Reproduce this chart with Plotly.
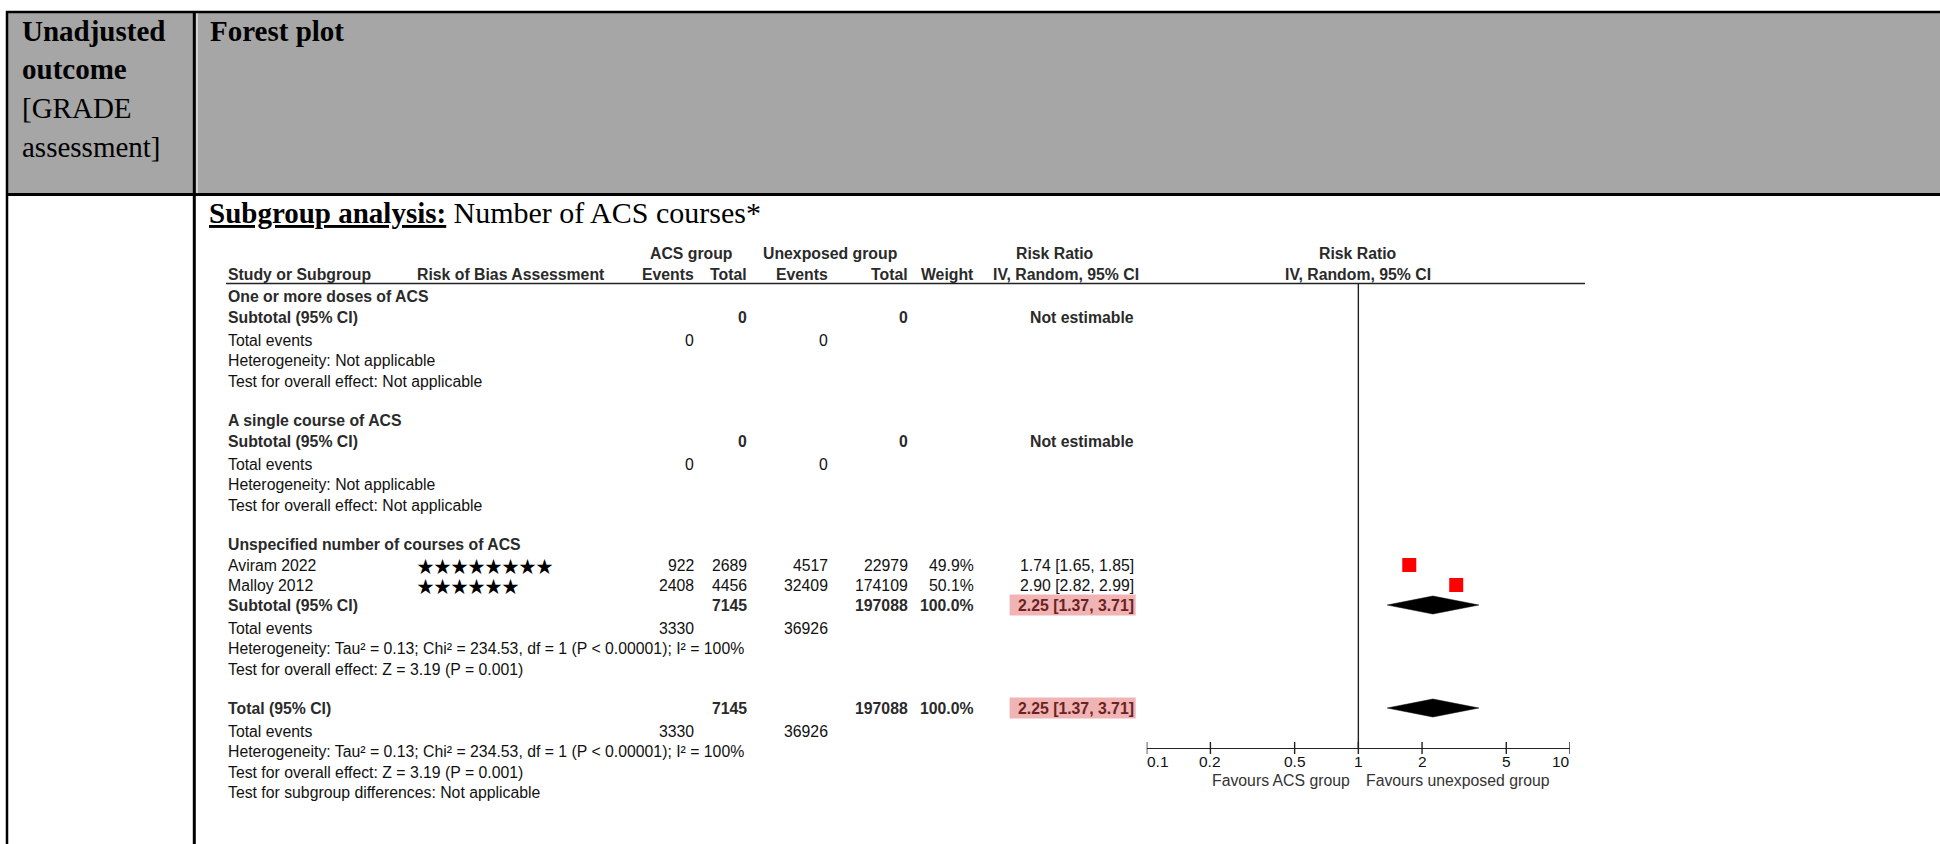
import math
import plotly.graph_objects as go

# ---------------- data ----------------
subgroup_names = ["One or more doses of ACS", "A single course of ACS",
                  "Unspecified number of courses of ACS"]
study_names = ["Aviram 2022", "Malloy 2012"]
study_subgroup = [2, 2]
study_stars = [8, 6]
acs_events = [922, 2408]
acs_totals = [2689, 4456]
unexp_events = [4517, 32409]
unexp_totals = [22979, 174109]
study_weights = ["49.9%", "50.1%"]
study_rr = [1.74, 2.90]
study_lo = [1.65, 2.82]
study_hi = [1.85, 2.99]

sub_acs_total = [0, 0, 7145]
sub_unexp_total = [0, 0, 197088]
sub_weight = ["", "", "100.0%"]
sub_acs_events = [0, 0, 3330]
sub_unexp_events = [0, 0, 36926]
sub_rr = [None, None, 2.25]
sub_lo = [None, None, 1.37]
sub_hi = [None, None, 3.71]
sub_heterogeneity = ["Not applicable", "Not applicable",
                     "Tau² = 0.13; Chi² = 234.53, df = 1 (P < 0.00001); I² = 100%"]
sub_effect = ["Not applicable", "Not applicable", "Z = 3.19 (P = 0.001)"]

total_acs_total = 7145
total_unexp_total = 197088
total_weight = "100.0%"
total_acs_events = 3330
total_unexp_events = 36926
total_rr, total_lo, total_hi = 2.25, 1.37, 3.71
total_heterogeneity = "Tau² = 0.13; Chi² = 234.53, df = 1 (P < 0.00001); I² = 100%"
total_effect = "Z = 3.19 (P = 0.001)"
subgroup_diff = "Not applicable"

axis_ticks = [0.1, 0.2, 0.5, 1, 2, 5, 10]
axis_tick_labels = ["0.1", "0.2", "0.5", "1", "2", "5", "10"]
favours_left = "Favours ACS group"
favours_right = "Favours unexposed group"

# ---------------- layout constants ----------------
W, H = 1940, 844
SANS = "Liberation Sans, Arial, sans-serif"
SERIF = "Liberation Serif, Times New Roman, serif"
STAR_FONT = "Noto Sans CJK JP, DejaVu Sans, sans-serif"
FS = 15.8
TFS = 29
TXT = "#111111"
HDR = "#2a2a2a"
GRAY = "#a6a6a6"
PINK = "#f0b4b4"
PINK_TXT = "#6a2222"

X_STUDY = 228
X_BIAS = 417
X_AEV = 694
X_ATOT = 747
X_UEV = 828
X_UTOT = 908
X_WT = 974
X_CI = 1134
X_RR_HDR1, X_RR_HDR2 = 1055, 1066
X_ACS_HDR = 691
X_UNEXP_HDR = 830
HLINE_X0, HLINE_X1 = 226, 1585
Y_HDR1, Y_HDR2, Y_HLINE = 253, 274, 283.5
Y_AXIS = 748
AX_X0, AX_X1 = 1146.7, 1570
BOX_X0, BOX_X1 = 1009.6, 1135.7

ann = []
shapes = []


def T(x, y, s, anchor="left", bold=False, size=FS, color=TXT, family=SANS):
    ann.append(dict(x=x / W, xref="paper", y=y, yref="y",
                    text=f"<b>{s}</b>" if bold else s, showarrow=False,
                    xanchor=anchor, yanchor="middle", borderpad=0, borderwidth=0,
                    font=dict(family=family, size=size, color=color)))


def hline(x0, x1, y, w, color="#000000"):
    shapes.append(dict(type="line", xref="paper", yref="y", x0=x0 / W, x1=x1 / W,
                       y0=y, y1=y, line=dict(color=color, width=w), layer="above"))


def vline(x, y0, y1, w, color="#000000"):
    shapes.append(dict(type="line", xref="paper", yref="y", x0=x / W, x1=x / W,
                       y0=y0, y1=y1, line=dict(color=color, width=w), layer="above"))


# ---------------- outer table ----------------
shapes.append(dict(type="rect", xref="paper", yref="y", x0=7 / W, x1=1.0, y0=12, y1=194,
                   fillcolor=GRAY, line=dict(width=0), layer="below"))
hline(6, W, 12, 2.5)
hline(6, W, 194.5, 3)
vline(7, 11, H, 2.5)
vline(194.3, 11, H, 3)
vline(197, 13.5, 193, 1, "#ffffff")

T(22, 31, "Unadjusted", bold=True, size=TFS, color="#000", family=SERIF)
T(22, 69, "outcome", bold=True, size=TFS, color="#000", family=SERIF)
T(22, 108, "[GRADE", size=TFS, color="#000", family=SERIF)
T(22, 147, "assessment]", size=TFS, color="#000", family=SERIF)
T(210, 31, "Forest plot", bold=True, size=TFS, color="#000", family=SERIF)
T(209, 212, "<u><b>Subgroup analysis:</b></u> <span style=\"font-size:30px\">Number of ACS courses*</span>",
  size=TFS, color="#000", family=SERIF)

# ---------------- column headers ----------------
T(X_ACS_HDR, Y_HDR1, "ACS group", "center", True, color=HDR)
T(X_UNEXP_HDR, Y_HDR1, "Unexposed group", "center", True, color=HDR)
T(X_RR_HDR1, Y_HDR1, "Risk Ratio", "center", True, color=HDR)
T(X_STUDY, Y_HDR2, "Study or Subgroup", "left", True, color=HDR)
T(X_BIAS, Y_HDR2, "Risk of Bias Assessment", "left", True, color=HDR)
T(X_AEV, Y_HDR2, "Events", "right", True, color=HDR)
T(X_ATOT, Y_HDR2, "Total", "right", True, color=HDR)
T(X_UEV, Y_HDR2, "Events", "right", True, color=HDR)
T(X_UTOT, Y_HDR2, "Total", "right", True, color=HDR)
T(X_WT, Y_HDR2, "Weight", "right", True, color=HDR)
T(X_RR_HDR2, Y_HDR2, "IV, Random, 95% CI", "center", True, color=HDR)
hline(HLINE_X0, HLINE_X1, Y_HLINE, 1.6, "#222222")

# ---------------- rows ----------------
sq_x, sq_y, ci_x, ci_y = [], [], [], []
diamonds = []


def ci_text(r, lo, hi):
    return f"{r:.2f} [{lo:.2f}, {hi:.2f}]"


def pink_box(y):
    shapes.append(dict(type="rect", xref="paper", yref="y", x0=BOX_X0 / W, x1=BOX_X1 / W,
                       y0=y - 10.5, y1=y + 10.5, fillcolor=PINK, line=dict(width=0),
                       layer="below"))


y = 296
for g, name in enumerate(subgroup_names):
    T(X_STUDY, y, name, bold=True, color=HDR)
    y += 21
    for i, s in enumerate(study_names):
        if study_subgroup[i] != g:
            continue
        T(X_STUDY, y, s)
        T(X_BIAS, y, "★" * study_stars[i], size=17, color="#000", family=STAR_FONT)
        T(X_AEV, y, str(acs_events[i]), "right")
        T(X_ATOT, y, str(acs_totals[i]), "right")
        T(X_UEV, y, str(unexp_events[i]), "right")
        T(X_UTOT, y, str(unexp_totals[i]), "right")
        T(X_WT, y, study_weights[i], "right")
        T(X_CI, y, ci_text(study_rr[i], study_lo[i], study_hi[i]), "right")
        sq_x.append(study_rr[i]); sq_y.append(y)
        ci_x += [study_lo[i], study_hi[i], None]; ci_y += [y, y, None]
        y += 20
    T(X_STUDY, y, "Subtotal (95% CI)", bold=True, color=HDR)
    T(X_ATOT, y, str(sub_acs_total[g]), "right", True, color=HDR)
    T(X_UTOT, y, str(sub_unexp_total[g]), "right", True, color=HDR)
    if sub_weight[g]:
        T(X_WT, y, sub_weight[g], "right", True, color=HDR)
    if sub_rr[g] is None:
        T(X_CI, y, "Not estimable", "right", True, color=HDR)
    else:
        pink_box(y)
        T(X_CI, y, ci_text(sub_rr[g], sub_lo[g], sub_hi[g]), "right", True, color=PINK_TXT)
        diamonds.append((sub_lo[g], sub_rr[g], sub_hi[g], y))
    y += 23
    T(X_STUDY, y, "Total events")
    T(X_AEV, y, str(sub_acs_events[g]), "right")
    T(X_UEV, y, str(sub_unexp_events[g]), "right")
    y += 20.5
    T(X_STUDY, y, "Heterogeneity: " + sub_heterogeneity[g])
    y += 20.5
    T(X_STUDY, y, "Test for overall effect: " + sub_effect[g])
    y += 39

# overall
T(X_STUDY, y, "Total (95% CI)", bold=True, color=HDR)
T(X_ATOT, y, str(total_acs_total), "right", True, color=HDR)
T(X_UTOT, y, str(total_unexp_total), "right", True, color=HDR)
T(X_WT, y, total_weight, "right", True, color=HDR)
pink_box(y)
T(X_CI, y, ci_text(total_rr, total_lo, total_hi), "right", True, color=PINK_TXT)
diamonds.append((total_lo, total_rr, total_hi, y))
y += 23
T(X_STUDY, y, "Total events")
T(X_AEV, y, str(total_acs_events), "right")
T(X_UEV, y, str(total_unexp_events), "right")
y += 20.5
T(X_STUDY, y, "Heterogeneity: " + total_heterogeneity)
y += 20.5
T(X_STUDY, y, "Test for overall effect: " + total_effect)
y += 20.5
T(X_STUDY, y, "Test for subgroup differences: " + subgroup_diff)

# ---------------- forest plot ----------------
fig = go.Figure()

# line of no effect
fig.add_trace(go.Scatter(x=[1, 1], y=[Y_HLINE, Y_AXIS], mode="lines",
                         line=dict(color="#222222", width=1.4), hoverinfo="skip",
                         cliponaxis=False))
# study CIs and squares
fig.add_trace(go.Scatter(x=ci_x, y=ci_y, mode="lines", line=dict(color="#000", width=1.2),
                         hoverinfo="skip"))
fig.add_trace(go.Scatter(x=sq_x, y=sq_y, mode="markers",
                         marker=dict(symbol="square", size=14, color="#ff0000",
                                     line=dict(width=0)), hoverinfo="skip"))
# pooled diamonds
for lo, est, hi, yy in diamonds:
    fig.add_trace(go.Scatter(x=[lo, est, hi, est, lo], y=[yy, yy - 9, yy, yy + 9, yy],
                             mode="lines", fill="toself", fillcolor="#000000",
                             line=dict(color="#000000", width=0.5), hoverinfo="skip"))
# axis ticks crossing the axis line
tx, ty = [], []
for t in axis_ticks:
    tx += [t, t, None]
    ty += [Y_AXIS - 6, Y_AXIS + 6, None]
fig.add_trace(go.Scatter(x=tx, y=ty, mode="lines", line=dict(color="#222222", width=1.4),
                         hoverinfo="skip", cliponaxis=False))

for t, lab in zip(axis_ticks, axis_tick_labels):
    anchor = "left" if t == axis_ticks[0] else ("right" if t == axis_ticks[-1] else "center")
    ann.append(dict(x=math.log10(t), xref="x", y=761, yref="y", text=lab, showarrow=False,
                    xanchor=anchor, yanchor="middle", borderpad=0, borderwidth=0,
                    font=dict(family=SANS, size=15.5, color=TXT)))
ann.append(dict(x=0, xref="x", y=780, yref="y", text=favours_left, showarrow=False,
                xanchor="right", xshift=-8, yanchor="middle", borderpad=0, borderwidth=0,
                font=dict(family=SANS, size=FS, color="#333333")))
ann.append(dict(x=0, xref="x", y=780, yref="y", text=favours_right, showarrow=False,
                xanchor="left", xshift=8, yanchor="middle", borderpad=0, borderwidth=0,
                font=dict(family=SANS, size=FS, color="#333333")))

# right-hand header
for yy, s in [(Y_HDR1, "Risk Ratio"), (Y_HDR2, "IV, Random, 95% CI")]:
    ann.append(dict(x=0, xref="x", y=yy, yref="y", text=f"<b>{s}</b>", showarrow=False,
                    xanchor="center", yanchor="middle", borderpad=0, borderwidth=0,
                    font=dict(family=SANS, size=FS, color=HDR)))

fig.update_layout(
    width=W, height=H, autosize=False,
    margin=dict(l=0, r=0, t=0, b=0, pad=0),
    paper_bgcolor="#ffffff", plot_bgcolor="rgba(0,0,0,0)",
    showlegend=False,
    xaxis=dict(type="log", range=[-1, 1], domain=[AX_X0 / W, AX_X1 / W],
               anchor="free", position=1 - Y_AXIS / H,
               showline=True, linecolor="#222222", linewidth=1.4,
               ticks="", showticklabels=False, showgrid=False, zeroline=False,
               fixedrange=True),
    yaxis=dict(range=[H, 0], domain=[0, 1], visible=False, showgrid=False,
               zeroline=False, fixedrange=True),
    annotations=ann,
    shapes=shapes,
)

fig.write_html("out.html", config={"displayModeBar": False, "staticPlot": True},
               post_script="document.body.style.margin='0px';")
